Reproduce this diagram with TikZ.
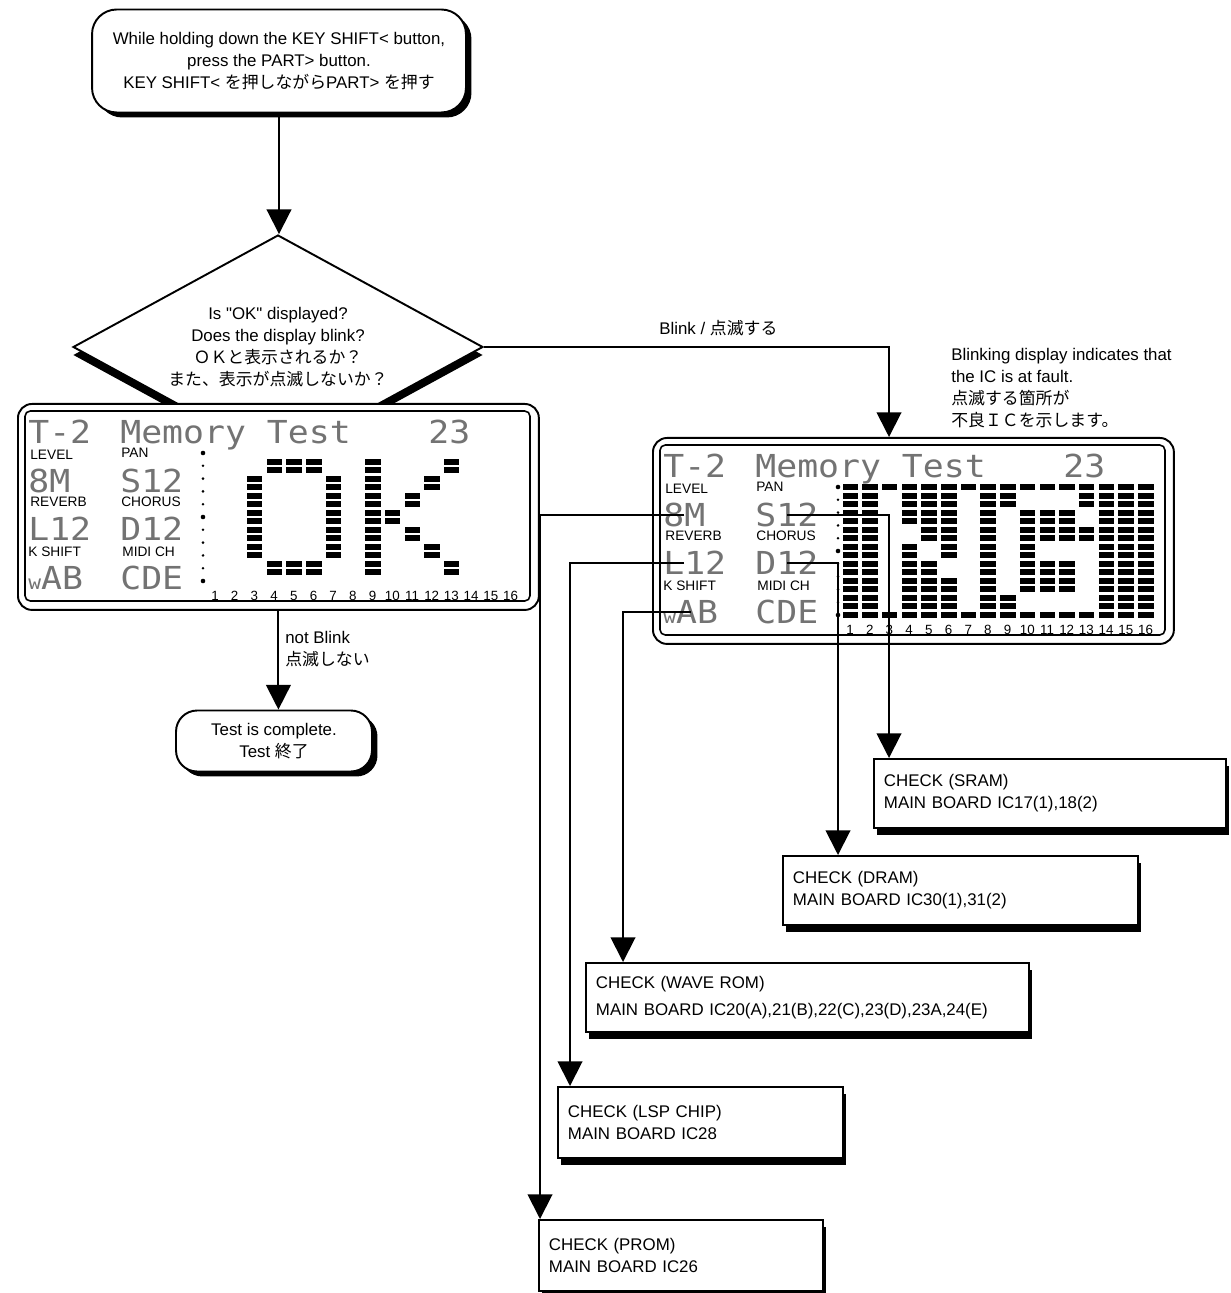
\documentclass[tikz,border=0pt]{standalone}
\usepackage{fontspec}
\setmainfont{Liberation Sans}[Ligatures=TeXOff]
\newfontfamily\jp{Noto Sans CJK JP}
\newfontfamily\lcdfont[FakeStretch=1.1]{DejaVu Sans Mono}
\usetikzlibrary{positioning,arrows.meta,shapes.geometric,shadows,calc}

\tikzset{
  flowline/.style={line width=1.1pt},
  flowarrow/.style={flowline,-{Triangle[width=14pt,length=14pt]}},
  startbox/.style={draw,line width=1.1pt,fill=white,rounded corners=14pt,align=center,
    drop shadow={shadow xshift=0.11cm,shadow yshift=-0.1cm,fill=black,opacity=1}},
  decision/.style={diamond,draw,line width=1.1pt,fill=white,aspect=1.83,inner sep=0pt,
    minimum width=8.2cm,minimum height=4.48cm,align=center,
    drop shadow={shadow xshift=0cm,shadow yshift=-0.16cm,fill=black,opacity=1}},
  lcdframe/.style={draw,line width=1.1pt,fill=white,rounded corners=8pt,inner sep=0pt,
    minimum width=10.42cm,minimum height=4.12cm,anchor=north west},
  lcdbig/.style={font=\lcdfont\fontsize{18}{18}\selectfont,text=black!55,inner sep=0pt,
    text height=13pt,text depth=0pt,anchor=west},
  lcdlab/.style={font=\fontsize{7.8}{8}\selectfont,inner sep=0pt,text height=6pt,
    text depth=0pt,anchor=west},
  lcdnum/.style={font=\fontsize{7.6}{8}\selectfont,inner sep=0pt},
  checkbox/.style={draw,line width=1.1pt,fill=white,anchor=north west,align=left,
    inner xsep=0.2cm,minimum height=1.38cm,
    drop shadow={shadow xshift=0.07cm,shadow yshift=-0.14cm,fill=black,opacity=1}},
  note/.style={align=left,anchor=west,inner sep=0pt}
}

\newcommand{\lcdpanel}[2]{%
  \draw[line width=0.9pt,rounded corners=3pt] (8,8) rectangle (513,198);
  \node[lcdbig] (#1-T2) at (11,29) {T-2};
  \node[lcdbig] (#1-title) at (103,29) {Memory Test};
  \node[lcdbig] (#1-23) at (411,29) {23};
  \node[lcdlab] (#1-level) at (13,51) {LEVEL};
  \node[lcdlab] (#1-pan) at (104,49) {PAN};
  \node[lcdbig] (#1-8M) at (11,78) {8M};
  \node[lcdbig] (#1-S12) at (103,78) {S12};
  \node[lcdlab] (#1-reverb) at (13,98) {REVERB};
  \node[lcdlab] (#1-chorus) at (104,98) {CHORUS};
  \node[lcdbig] (#1-L12) at (11,126) {L12};
  \node[lcdbig] (#1-D12) at (103,126) {D12};
  \node[lcdlab] (#1-kshift) at (11,148) {K SHIFT};
  \node[lcdlab] (#1-midi) at (105,148) {MIDI CH};
  \node[lcdbig] (#1-wAB) at (11,175) {{\fontsize{11}{11}\selectfont w}AB};
  \node[lcdbig] (#1-CDE) at (103,175) {CDE};
  \foreach \i in {0,...,10}
    \fill (186,{50+\i*12.8}) circle (0.8pt);
  \foreach \i in {0,5,10}
    \fill (186,{50+\i*12.8}) circle (1.3pt);
  \foreach \c/\a/\b in {#2} {
    \foreach \r in {\a,...,\b}
      \fill ({190.5+(\c-1)*19.7},{47+(\r-1)*8.5}) rectangle ++(15.5,6);
  }
  \foreach \c in {1,...,16}
    \node[lcdnum] (#1-n\c) at ({198+(\c-1)*19.7},193) {\c};
}

\begin{document}
\begin{tikzpicture}[x=0.02cm,y=-0.02cm,font=\fontsize{9.6}{12.5}\selectfont]
  \useasboundingbox (0,0) rectangle (1230,1293);

  \node[startbox,minimum width=7.48cm,minimum height=2.06cm] (start) at (279,61) {
    While holding down the KEY SHIFT< button,\\
    press the PART> button.\\
    KEY SHIFT< {\jp を押しながら}PART> {\jp を押す}
  };

  \node[decision] (dia) at (278,347) {
    Is "OK" displayed?\\
    Does the display blink?\\
    {\jp ＯＫと表示されるか？}\\
    {\jp また、表示が点滅しないか？}
  };
  \draw[flowarrow] (start.south) -- (start.south |- dia.north);

  \node[lcdframe] (ldisp) at (17,403) {};
  \begin{scope}[shift={(ldisp.north west)}]
    \lcdpanel{l}{3/4/13, 4/2/3, 4/14/15, 5/2/3, 5/14/15, 6/2/3, 6/14/15, 7/4/13,
      9/2/15, 10/8/9, 11/6/7, 11/10/11, 12/4/5, 12/12/13, 13/2/3, 13/14/15}
  \end{scope}

  \node[lcdframe] (rdisp) at (652,437) {};
  \begin{scope}[shift={(rdisp.north west)}]
    \lcdpanel{r}{1/1/16, 2/1/16, 3/1/1, 3/16/16, 4/1/5, 4/8/16, 5/1/7, 5/10/16,
      6/1/9, 6/12/16, 7/1/1, 7/16/16, 8/1/16, 9/1/3, 9/14/16, 10/1/1, 10/4/13,
      10/16/16, 11/1/1, 11/4/7, 11/10/13, 11/16/16, 12/1/1, 12/4/7, 12/10/13,
      12/16/16, 13/1/3, 13/6/7, 13/16/16, 14/1/16, 15/1/16, 16/1/16}
  \end{scope}

  \node[note] (blink) at (659,328) {Blink / {\jp 点滅する}};
  \draw[flowarrow] (dia.east) -| ($(rdisp.north west)+(237,0)$);

  \node[note] (fault) at (951,388) {
    Blinking display indicates that\\
    the IC is at fault.\\
    {\jp 点滅する箇所が}\\
    {\jp 不良ＩＣを示します。}
  };

  \node[startbox,rounded corners=12pt,minimum width=3.92cm,minimum height=1.22cm,
        drop shadow={shadow xshift=0.09cm,shadow yshift=-0.09cm,fill=black,opacity=1}]
        (done) at (274,741) {Test is complete.\\Test {\jp 終了}};
  \node[note] (nblink) at (285,649) {not Blink\\{\jp 点滅しない}};
  \draw[flowarrow] (ldisp.south) -- (ldisp.south |- done.north);

  \node[checkbox,text width=6.64cm] (sram) at (873,758)
    {CHECK (SRAM)\\MAIN BOARD IC17(1),18(2)};
  \node[checkbox,text width=6.7cm] (dram) at (782,855)
    {CHECK (DRAM)\\MAIN BOARD IC30(1),31(2)};
  \node[checkbox,text width=8.46cm] (wave) at (585,962)
    {CHECK (WAVE ROM)\\[3pt]MAIN BOARD IC20(A),21(B),22(C),23(D),23A,24(E)};
  \node[checkbox,text width=5.3cm,minimum height=1.42cm] (lsp) at (557,1086)
    {CHECK (LSP CHIP)\\MAIN BOARD IC28};
  \node[checkbox,text width=5.28cm,minimum height=1.42cm] (prom) at (538,1219)
    {CHECK (PROM)\\MAIN BOARD IC26};

  \draw[flowarrow] (r-S12.center) -| ($(sram.north west)+(16,0)$);
  \draw[flowarrow] (r-D12.center) -| ($(dram.north west)+(56,0)$);
  \draw[flowarrow] (r-wAB.center) -| ($(wave.north west)+(38,0)$);
  \draw[flowarrow] ($(r-L12.west)+(21,0)$) -| ($(lsp.north west)+(13,0)$);
  \draw[flowarrow] (r-8M.center) -| ($(prom.north west)+(2,0)$);
\end{tikzpicture}
\end{document}
